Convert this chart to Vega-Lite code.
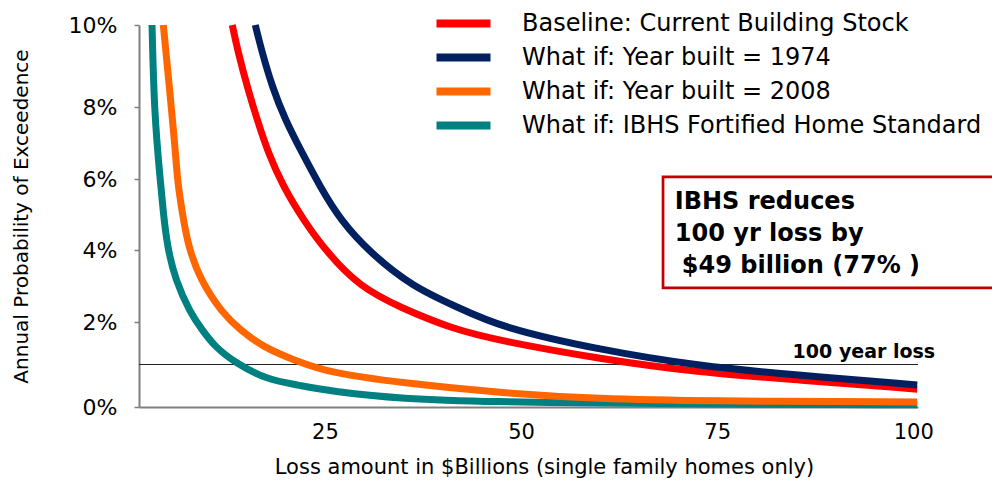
{
  "$schema": "https://vega.github.io/schema/vega-lite/v6.json",
  "autosize": "none",
  "width": 779,
  "height": 382,
  "padding": {"left": 139, "top": 25, "right": 74, "bottom": 78},
  "background": "white",
  "config": {"view": {"stroke": null}, "font": "DejaVu Sans"},
  "datasets": {
    "curves": [
      {"series": "What if: IBHS Fortified Home Standard", "loss": 2.96, "p": 0.1},
      {"series": "What if: IBHS Fortified Home Standard", "loss": 3.25, "p": 0.078},
      {"series": "What if: IBHS Fortified Home Standard", "loss": 4.01, "p": 0.0597},
      {"series": "What if: IBHS Fortified Home Standard", "loss": 4.4, "p": 0.0504},
      {"series": "What if: IBHS Fortified Home Standard", "loss": 4.91, "p": 0.0409},
      {"series": "What if: IBHS Fortified Home Standard", "loss": 5.93, "p": 0.0317},
      {"series": "What if: IBHS Fortified Home Standard", "loss": 7.84, "p": 0.0225},
      {"series": "What if: IBHS Fortified Home Standard", "loss": 9.37, "p": 0.0181},
      {"series": "What if: IBHS Fortified Home Standard", "loss": 11.02, "p": 0.0141},
      {"series": "What if: IBHS Fortified Home Standard", "loss": 13.57, "p": 0.0104},
      {"series": "What if: IBHS Fortified Home Standard", "loss": 17.65, "p": 0.0064},
      {"series": "What if: IBHS Fortified Home Standard", "loss": 21.47, "p": 0.0052},
      {"series": "What if: IBHS Fortified Home Standard", "loss": 25.7, "p": 0.0037},
      {"series": "What if: IBHS Fortified Home Standard", "loss": 34.6, "p": 0.0019},
      {"series": "What if: IBHS Fortified Home Standard", "loss": 47.3, "p": 0.0012},
      {"series": "What if: IBHS Fortified Home Standard", "loss": 60.1, "p": 0.0009},
      {"series": "What if: IBHS Fortified Home Standard", "loss": 72.8, "p": 0.0007},
      {"series": "What if: IBHS Fortified Home Standard", "loss": 100.5, "p": 0.0005},
      {"series": "What if: Year built = 2008", "loss": 4.4, "p": 0.1},
      {"series": "What if: Year built = 2008", "loss": 5.93, "p": 0.0686},
      {"series": "What if: Year built = 2008", "loss": 6.18, "p": 0.0597},
      {"series": "What if: Year built = 2008", "loss": 6.82, "p": 0.0504},
      {"series": "What if: Year built = 2008", "loss": 7.58, "p": 0.0409},
      {"series": "What if: Year built = 2008", "loss": 9.11, "p": 0.0317},
      {"series": "What if: Year built = 2008", "loss": 11.91, "p": 0.0225},
      {"series": "What if: Year built = 2008", "loss": 14.21, "p": 0.0181},
      {"series": "What if: Year built = 2008", "loss": 17.14, "p": 0.0141},
      {"series": "What if: Year built = 2008", "loss": 20.96, "p": 0.0111},
      {"series": "What if: Year built = 2008", "loss": 25.7, "p": 0.008},
      {"series": "What if: Year built = 2008", "loss": 34.6, "p": 0.0057},
      {"series": "What if: Year built = 2008", "loss": 47.3, "p": 0.0033},
      {"series": "What if: Year built = 2008", "loss": 60.1, "p": 0.0019},
      {"series": "What if: Year built = 2008", "loss": 72.8, "p": 0.0014},
      {"series": "What if: Year built = 2008", "loss": 100.5, "p": 0.0012},
      {"series": "Baseline: Current Building Stock", "loss": 13.19, "p": 0.1},
      {"series": "Baseline: Current Building Stock", "loss": 13.95, "p": 0.0932},
      {"series": "Baseline: Current Building Stock", "loss": 15.1, "p": 0.0849},
      {"series": "Baseline: Current Building Stock", "loss": 16.37, "p": 0.0764},
      {"series": "Baseline: Current Building Stock", "loss": 17.78, "p": 0.0672},
      {"series": "Baseline: Current Building Stock", "loss": 19.69, "p": 0.0578},
      {"series": "Baseline: Current Building Stock", "loss": 22.24, "p": 0.0485},
      {"series": "Baseline: Current Building Stock", "loss": 25.29, "p": 0.0392},
      {"series": "Baseline: Current Building Stock", "loss": 29.49, "p": 0.0297},
      {"series": "Baseline: Current Building Stock", "loss": 34.6, "p": 0.024},
      {"series": "Baseline: Current Building Stock", "loss": 41.35, "p": 0.0183},
      {"series": "Baseline: Current Building Stock", "loss": 47.3, "p": 0.0156},
      {"series": "Baseline: Current Building Stock", "loss": 60.1, "p": 0.0113},
      {"series": "Baseline: Current Building Stock", "loss": 72.8, "p": 0.0081},
      {"series": "Baseline: Current Building Stock", "loss": 85.3, "p": 0.0064},
      {"series": "Baseline: Current Building Stock", "loss": 100.5, "p": 0.0042},
      {"series": "What if: Year built = 1974", "loss": 16.12, "p": 0.1},
      {"series": "What if: Year built = 1974", "loss": 17.01, "p": 0.0932},
      {"series": "What if: Year built = 1974", "loss": 18.28, "p": 0.0849},
      {"series": "What if: Year built = 1974", "loss": 19.94, "p": 0.0764},
      {"series": "What if: Year built = 1974", "loss": 22.11, "p": 0.0672},
      {"series": "What if: Year built = 1974", "loss": 24.4, "p": 0.0578},
      {"series": "What if: Year built = 1974", "loss": 26.95, "p": 0.0485},
      {"series": "What if: Year built = 1974", "loss": 30.77, "p": 0.0392},
      {"series": "What if: Year built = 1974", "loss": 36.25, "p": 0.0297},
      {"series": "What if: Year built = 1974", "loss": 41.85, "p": 0.0242},
      {"series": "What if: Year built = 1974", "loss": 47.3, "p": 0.0188},
      {"series": "What if: Year built = 1974", "loss": 60.1, "p": 0.0134},
      {"series": "What if: Year built = 1974", "loss": 72.8, "p": 0.0096},
      {"series": "What if: Year built = 1974", "loss": 85.3, "p": 0.0075},
      {"series": "What if: Year built = 1974", "loss": 100.5, "p": 0.0052}
    ],
    "box": [{"x1": 68.1, "x2": 110.5, "y1": 0.0606, "y2": 0.0295}],
    "boxText": [
      {"x": 69.6, "y": 0.05352, "t": "IBHS reduces", "line": 1},
      {"x": 69.6, "y": 0.04451, "t": "100 yr loss by", "line": 2},
      {"x": 69.6, "y": 0.03556, "t": "$49 billion (77% )", "line": 3}
    ],
    "refLine": [{"p": 0.01, "label": "100 year loss", "x": 93.7, "ly": 0.0129}]
  },
  "layer": [
    {
      "data": {"name": "refLine"},
      "mark": {"type": "rule", "color": "#222222", "strokeWidth": 1},
      "encoding": {"y": {"field": "p", "type": "quantitative"}}
    },
    {
      "data": {"name": "curves"},
      "mark": {"type": "line", "strokeWidth": 7, "interpolate": "basis", "strokeCap": "butt"},
      "encoding": {
        "x": {
          "field": "loss", "type": "quantitative",
          "scale": {"domain": [1.3, 100.6], "nice": false, "zero": false},
          "axis": {
            "values": [25, 50, 75, 100],
            "title": "Loss amount in $Billions (single family homes only)",
            "titleFontSize": 21, "titleFontWeight": "normal", "titleColor": "black",
            "titlePadding": 14, "titleX": 405,
            "labelFontSize": 21, "labelColor": "black", "labelPadding": 14,
            "ticks": false, "domainColor": "#808080", "domainWidth": 2, "grid": false
          }
        },
        "y": {
          "field": "p", "type": "quantitative",
          "scale": {"domain": [0, 0.02, 0.04, 0.06, 0.08, 0.1], "range": [382, 297, 225, 154, 82, 0], "nice": false, "zero": false},
          "axis": {
            "values": [0, 0.02, 0.04, 0.06, 0.08, 0.1],
            "format": ".0%",
            "title": "Annual Probability of Exceedence",
            "titleFontSize": 20, "titleFontWeight": "normal", "titleColor": "black",
            "titlePadding": 37,
            "labelFontSize": 22, "labelColor": "black", "labelPadding": 17,
            "ticks": true, "tickSize": 5, "tickColor": "#808080", "tickWidth": 1.5,
            "domainColor": "#808080", "domainWidth": 2, "grid": false
          }
        },
        "color": {
          "field": "series", "type": "nominal",
          "scale": {
            "domain": ["Baseline: Current Building Stock", "What if: Year built = 1974", "What if: Year built = 2008", "What if: IBHS Fortified Home Standard"],
            "range": ["#FF0000", "#002060", "#FF6600", "#008080"]
          },
          "legend": {
            "orient": "none", "legendX": 307, "legendY": -19,
            "title": null,
            "symbolType": "M-2,0H2", "symbolSize": 729, "symbolStrokeWidth": 8,
            "labelFontSize": 24, "labelColor": "black", "labelOffset": 41,
            "rowPadding": 0, "labelLimit": 700
          }
        }
      }
    },
    {
      "data": {"name": "box"},
      "mark": {"type": "rect", "fill": "white", "stroke": "#C00000", "strokeWidth": 2.7},
      "encoding": {
        "x": {"field": "x1", "type": "quantitative"},
        "x2": {"field": "x2"},
        "y": {"field": "y1", "type": "quantitative"},
        "y2": {"field": "y2"}
      }
    },
    {
      "data": {"name": "boxText"},
      "transform": [{"filter": "datum.line < 3"}],
      "mark": {"type": "text", "align": "left", "baseline": "middle", "fontSize": 24, "fontWeight": "bold", "color": "black"},
      "encoding": {
        "x": {"field": "x", "type": "quantitative"},
        "y": {"field": "y", "type": "quantitative"},
        "text": {"field": "t"}
      }
    },
    {
      "data": {"name": "boxText"},
      "transform": [{"filter": "datum.line == 3"}],
      "mark": {"type": "text", "align": "left", "baseline": "middle", "fontSize": 24, "fontWeight": "bold", "color": "black", "dx": 7},
      "encoding": {
        "x": {"field": "x", "type": "quantitative"},
        "y": {"field": "y", "type": "quantitative"},
        "text": {"field": "t"}
      }
    },
    {
      "data": {"name": "refLine"},
      "mark": {"type": "text", "align": "center", "baseline": "middle", "fontSize": 19, "fontWeight": "bold", "color": "black"},
      "encoding": {
        "x": {"field": "x", "type": "quantitative"},
        "y": {"field": "ly", "type": "quantitative"},
        "text": {"field": "label"}
      }
    }
  ]
}
